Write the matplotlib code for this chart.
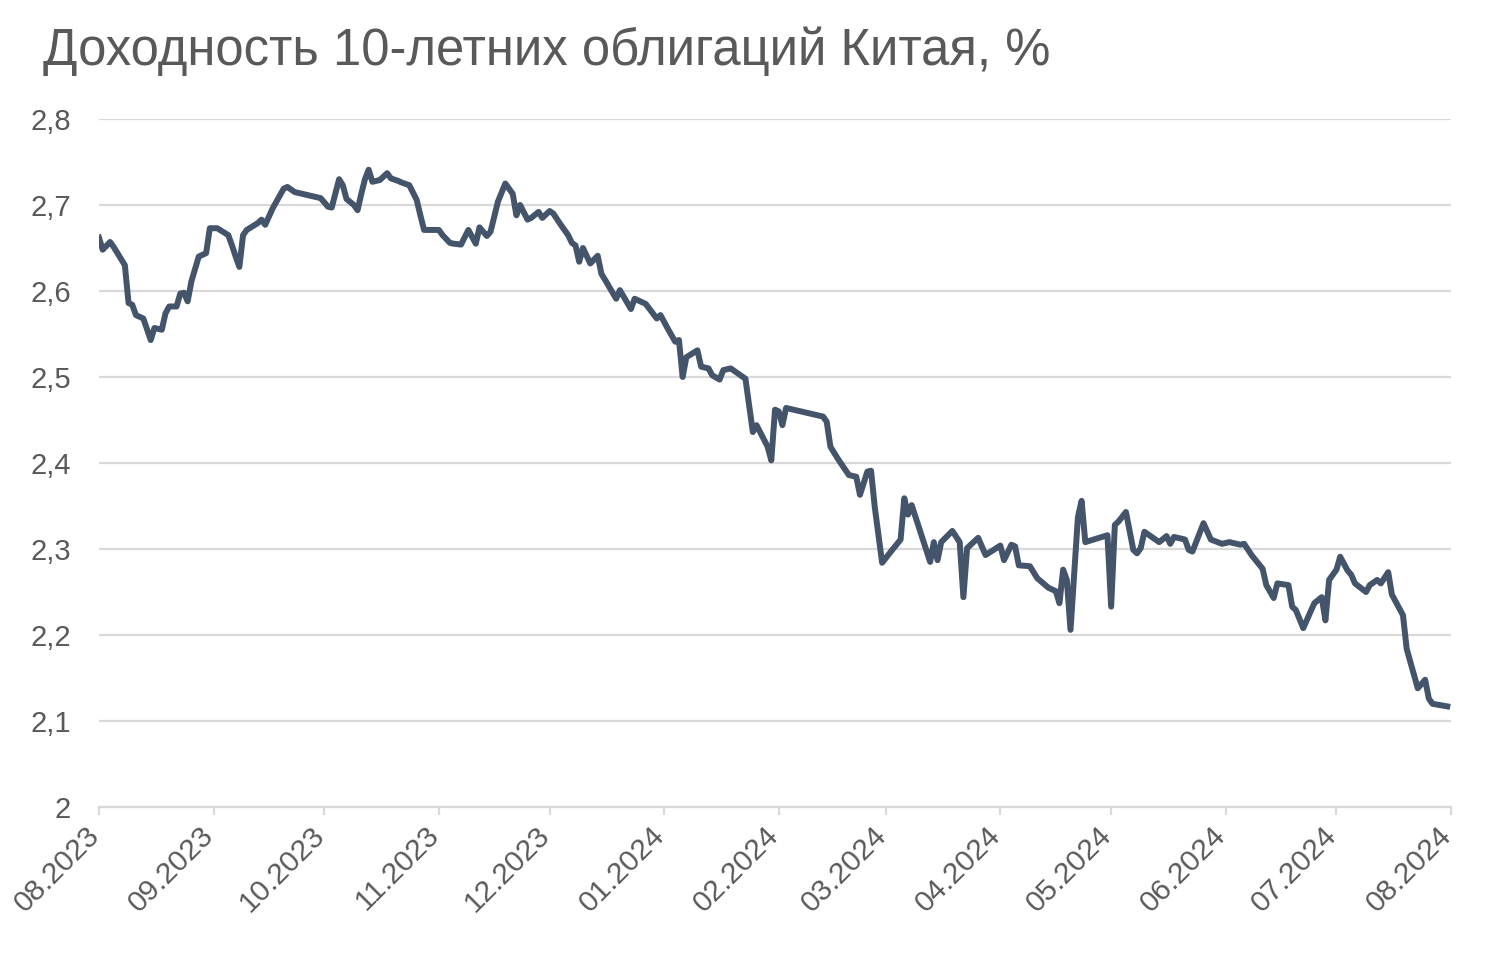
import numpy as np
import pandas as pd
import matplotlib
matplotlib.use("Agg")
import matplotlib.pyplot as plt
import matplotlib.dates as mdates
import matplotlib.transforms as mtransforms
from matplotlib.ticker import FuncFormatter

plt.rcParams['font.family'] = ['Liberation Sans', 'DejaVu Sans']

# days since 01.08.2023 and yield, %
days = [0, 1, 3, 4, 7, 8, 9, 10, 12, 14, 15, 17, 18, 19, 21, 22, 23, 24, 25, 27,
        29, 30, 32, 35, 36, 37, 38, 39, 40, 43, 44, 45, 47, 50, 51, 53, 60, 62, 63, 65,
        66, 67, 69, 70, 71, 72, 73, 74, 76, 78, 79, 81, 82, 84, 86, 87, 88, 92, 93, 95,
        96, 98, 100, 102, 103, 105, 106, 108, 110, 112, 113, 114, 116, 117, 119, 120, 122, 123, 125, 127,
        128, 129, 130, 131, 133, 135, 136, 137, 140, 141, 144, 145, 148, 151, 152, 154, 156, 157, 158, 159,
        162, 163, 165, 166, 168, 169, 171, 173, 175, 177, 178, 181, 182, 183, 184, 185, 186, 196, 197, 198,
        200, 203, 205, 206, 208, 209, 210, 212, 214, 217, 218, 219, 220, 225, 226, 227, 228, 231, 233, 234,
        235, 238, 240, 244, 245, 247, 248, 249, 252, 254, 257, 259, 260, 261, 262, 263, 265, 266, 267, 273,
        274, 275, 276, 278, 280, 281, 282, 283, 287, 289, 290, 291, 294, 295, 296, 299, 301, 304, 306, 309,
        310, 312, 315, 316, 318, 319, 322, 323, 324, 326, 329, 331, 332, 333, 335, 336, 338, 339, 340, 343,
        344, 346, 347, 349, 350, 353, 354, 357, 359, 360, 361, 365]
yields = [2.662, 2.648, 2.657, 2.651, 2.630, 2.586, 2.584, 2.572, 2.568, 2.543, 2.557, 2.555, 2.574, 2.582, 2.582, 2.597, 2.598, 2.588, 2.611, 2.640,
          2.644, 2.673, 2.673, 2.665, 2.653, 2.640, 2.628, 2.665, 2.671, 2.679, 2.683, 2.677, 2.696, 2.719, 2.721, 2.715, 2.708, 2.698, 2.697, 2.730,
          2.723, 2.707, 2.700, 2.694, 2.713, 2.730, 2.741, 2.727, 2.729, 2.737, 2.731, 2.728, 2.726, 2.723, 2.706, 2.688, 2.671, 2.671, 2.665, 2.656,
          2.655, 2.654, 2.671, 2.655, 2.674, 2.664, 2.669, 2.704, 2.725, 2.713, 2.688, 2.700, 2.683, 2.685, 2.692, 2.685, 2.693, 2.690, 2.677, 2.665,
          2.656, 2.653, 2.634, 2.650, 2.632, 2.641, 2.620, 2.613, 2.591, 2.601, 2.579, 2.591, 2.585, 2.568, 2.572, 2.556, 2.541, 2.543, 2.500, 2.523,
          2.531, 2.512, 2.510, 2.502, 2.497, 2.508, 2.510, 2.504, 2.498, 2.436, 2.444, 2.419, 2.403, 2.462, 2.460, 2.444, 2.464, 2.454, 2.448, 2.419,
          2.405, 2.386, 2.384, 2.363, 2.390, 2.391, 2.349, 2.284, 2.295, 2.311, 2.359, 2.340, 2.351, 2.285, 2.308, 2.287, 2.308, 2.321, 2.308, 2.244,
          2.301, 2.313, 2.293, 2.304, 2.287, 2.305, 2.303, 2.281, 2.280, 2.266, 2.255, 2.251, 2.237, 2.276, 2.264, 2.206, 2.337, 2.356, 2.308, 2.316,
          2.233, 2.328, 2.332, 2.343, 2.299, 2.295, 2.301, 2.320, 2.308, 2.315, 2.306, 2.314, 2.311, 2.299, 2.297, 2.330, 2.311, 2.306, 2.308, 2.305,
          2.306, 2.293, 2.277, 2.258, 2.243, 2.260, 2.258, 2.233, 2.229, 2.208, 2.237, 2.244, 2.217, 2.264, 2.276, 2.291, 2.275, 2.270, 2.260, 2.250,
          2.258, 2.264, 2.260, 2.273, 2.247, 2.223, 2.184, 2.138, 2.148, 2.126, 2.120, 2.117]

dates = pd.Timestamp("2023-08-01") + pd.to_timedelta(days, unit="D")
months = pd.date_range("2023-08-01", "2024-08-01", freq="MS")

grey = "#595959"
grid = "#d9d9d9"


def ru_fmt(v, p):
    s = "%.1f" % v
    if s.endswith(".0"):
        s = s[:-2]
    return s.replace(".", ",")


fig = plt.figure(figsize=(14.96, 9.59), dpi=100)
ax = fig.add_axes([99/1496, 1-807/959, (1451-99)/1496, (807-119)/959])

ax.plot(dates, yields, color="#44546a", lw=4.3, solid_joinstyle="round", zorder=3)

ax.set_ylim(2.0, 2.8)
ax.set_yticks(np.arange(2.0, 2.81, 0.1))
ax.yaxis.set_major_formatter(FuncFormatter(ru_fmt))
ax.grid(axis="y", color=grid, lw=1.6, zorder=0)
ax.set_axisbelow(True)

ax.set_xlim(months[0], months[-1])
ax.set_xticks(months)
ax.xaxis.set_major_formatter(mdates.DateFormatter("%m.%Y"))

for s in ["top", "right", "left"]:
    ax.spines[s].set_visible(False)
ax.spines["bottom"].set_color(grid)
ax.spines["bottom"].set_linewidth(1.6)

ax.tick_params(axis="y", length=0, pad=20, labelsize=21, labelcolor=grey)
ax.tick_params(axis="x", length=6, width=1.6, color=grid, pad=4, labelsize=21.5, labelcolor=grey)
shift = mtransforms.ScaledTranslation(6/100, 0, fig.dpi_scale_trans)
for lbl in ax.get_xticklabels():
    lbl.set_rotation(45)
    lbl.set_ha("right")
    lbl.set_transform(lbl.get_transform() + shift)

fig.text(43/1496, 1-65/959, "Доходность 10-летних облигаций Китая, %", fontsize=36.6,
         color=grey, ha="left", va="baseline")

fig.savefig("out.png", dpi=100)
